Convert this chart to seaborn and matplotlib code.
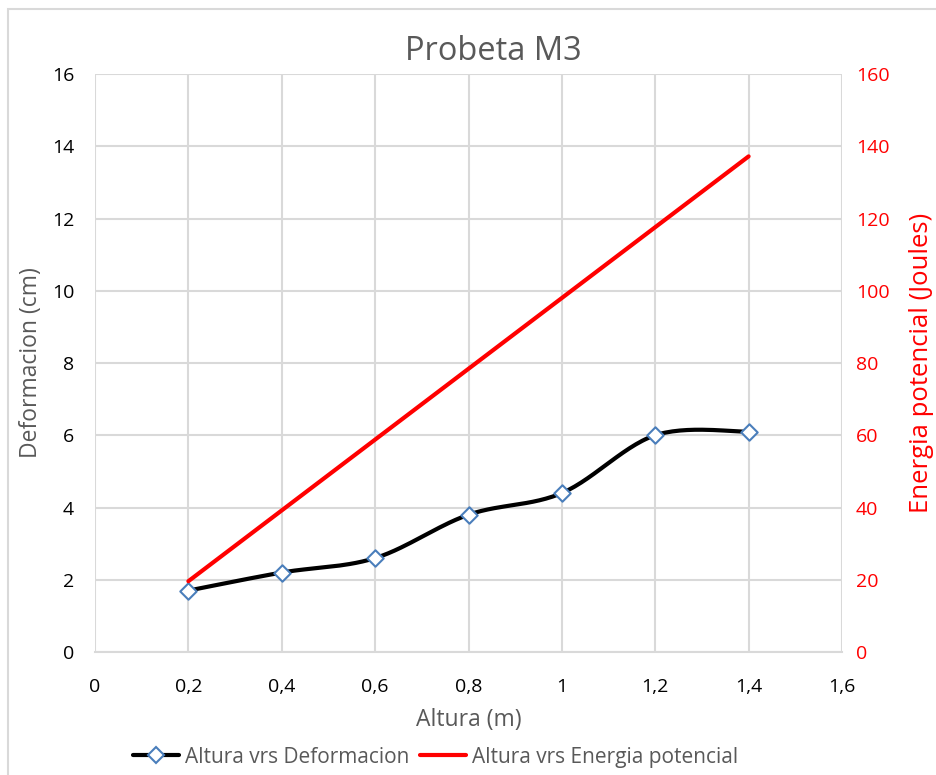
import numpy as np
import matplotlib
matplotlib.use("Agg")
import matplotlib.pyplot as plt
import seaborn as sns
from matplotlib.ticker import FuncFormatter
from matplotlib.patches import Rectangle
from matplotlib.lines import Line2D

# data
altura = [0.2, 0.4, 0.6, 0.8, 1.0, 1.2, 1.4]
deformacion = [1.7, 2.2, 2.6, 3.8, 4.4, 6.0, 6.1]
energia = [19.6, 39.2, 58.8, 78.4, 98.0, 117.6, 137.2]

sns.set_theme(style="white")
plt.rcParams['font.family'] = ['Open Sans', 'DejaVu Sans']

GRAY = '#595959'
GRID = '#d9d9d9'


def smooth(xs, ys, n=30):
    # Excel-like smoothed line (bezier through the points)
    p = np.column_stack([xs, ys]).astype(float)
    out = []
    for i in range(len(p) - 1):
        p0 = p[i - 1] if i > 0 else p[i]
        p1, p2 = p[i], p[i + 1]
        p3 = p[i + 2] if i + 2 < len(p) else p[i + 1]
        c1 = p1 + (p2 - p0) / 6
        c2 = p2 - (p3 - p1) / 6
        t = np.linspace(0, 1, n)[:, None]
        seg = (1 - t) ** 3 * p1 + 3 * (1 - t) ** 2 * t * c1 + 3 * (1 - t) * t ** 2 * c2 + t ** 3 * p2
        out.append(seg if i == 0 else seg[1:])
    s = np.vstack(out)
    return s[:, 0], s[:, 1]


fig = plt.figure(figsize=(9.37, 7.75), dpi=100)
ax = fig.add_axes([0.1014, 0.1587, 0.7972, 0.7458])
ax2 = ax.twinx()

sx, sy = smooth(altura, deformacion)
sns.lineplot(x=sx, y=sy, ax=ax, color='black', linewidth=3, sort=False, zorder=3)
sns.scatterplot(x=altura, y=deformacion, ax=ax, marker='D', s=70, facecolor='white',
                edgecolor='#4a7ebb', linewidth=1.5, zorder=4)
sns.lineplot(x=altura, y=energia, ax=ax2, color='#ff0000', linewidth=3, zorder=3)

ax.set_xlim(0, 1.6)
ax.set_ylim(0, 16)
ax2.set_ylim(0, 160)
ax.set_xticks(np.arange(0, 1.61, 0.2))
ax.set_yticks(range(0, 17, 2))
ax2.set_yticks(range(0, 161, 20))

comma = FuncFormatter(lambda v, p: ('%g' % round(v, 2)).replace('.', ','))
ax.xaxis.set_major_formatter(comma)

ax.grid(True, color=GRID, linewidth=1.5)
ax.set_axisbelow(True)
for a in (ax, ax2):
    for sp in a.spines.values():
        sp.set_visible(False)
ax.spines['bottom'].set_visible(True)
ax.spines['bottom'].set_color(GRID)
ax.spines['bottom'].set_linewidth(1.5)

ax.tick_params(axis='x', length=0, labelsize=14, colors='black', pad=19)
ax.tick_params(axis='y', length=0, labelsize=14, colors='black', pad=15)
ax2.tick_params(axis='y', length=0, labelsize=14, colors='#ff0000', pad=10)

ax.set_xlabel('Altura (m)', fontsize=16.5, color=GRAY, labelpad=8)
ax.set_ylabel('Deformacion (cm)', fontsize=16.5, color=GRAY, labelpad=6)
ax2.set_ylabel('Energia potencial (Joules)', fontsize=18.5, color='#ff0000', labelpad=14)
ax.set_title('Probeta M3', fontsize=23.5, color=GRAY, pad=10, x=0.533)

handles = [
    Line2D([], [], color='black', linewidth=3, marker='D', markersize=8,
           markerfacecolor='white', markeredgecolor='#4a7ebb', markeredgewidth=1.5),
    Line2D([], [], color='#ff0000', linewidth=3),
]
fig.legend(handles, ['Altura vrs Deformacion', 'Altura vrs Energia potencial'],
           loc='center', bbox_to_anchor=(0.465, 0.023), ncol=2, frameon=False,
           fontsize=15, labelcolor=GRAY, handlelength=2.2, handletextpad=0.3,
           columnspacing=0.5)

fig.patches.append(Rectangle((0.009, -0.01), 1.0, 0.999, transform=fig.transFigure,
                             fill=False, edgecolor='#d9d9d9', linewidth=1.5))

fig.savefig('out.png', dpi=100)
